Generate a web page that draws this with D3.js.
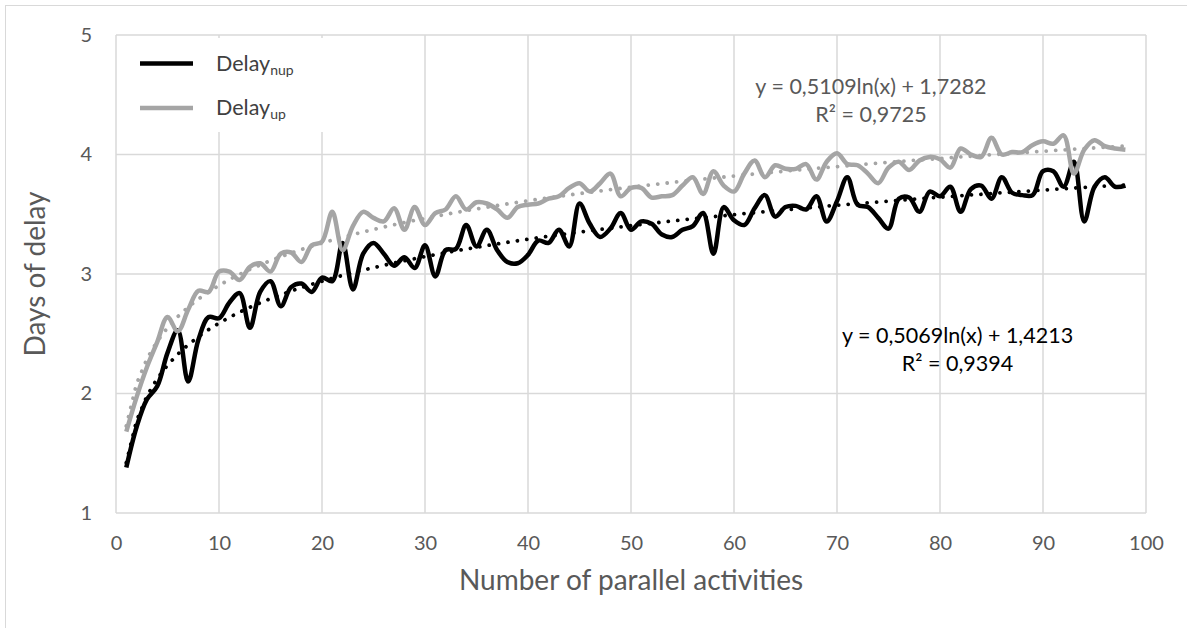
<!DOCTYPE html>
<meta charset="utf-8">
<head>
    <title>Days of delay</title>
    <script src="https://d3js.org/d3.v7.min.js"></script>
</head>
<style>
    body{ margin:0; background:#fff; }
    text{ font-family: Lato, "Open Sans", sans-serif; }
</style>
<svg width="1187" height="628"></svg>
<script>
    // number of parallel activities
    var activities = [1,2,3,4,5,6,7,8,9,10,11,12,13,14,15,16,17,18,19,20,
        21,22,23,24,25,26,27,28,29,30,31,32,33,34,35,36,37,38,39,40,
        41,42,43,44,45,46,47,48,49,50,51,52,53,54,55,56,57,58,59,60,
        61,62,63,64,65,66,67,68,69,70,71,72,73,74,75,76,77,78,79,80,
        81,82,83,84,85,86,87,88,89,90,91,92,93,94,95,96,97,98];

    var delayNup = [1.38,1.72,1.95,2.06,2.34,2.53,2.10,2.45,2.64,2.63,
        2.76,2.84,2.55,2.85,2.94,2.73,2.89,2.92,2.85,2.97,
        2.94,3.26,2.87,3.17,3.26,3.17,3.07,3.14,3.05,3.24,
        2.98,3.20,3.21,3.41,3.23,3.37,3.20,3.10,3.09,3.16,
        3.28,3.26,3.37,3.23,3.59,3.42,3.31,3.38,3.51,3.37,
        3.44,3.42,3.33,3.31,3.37,3.40,3.51,3.17,3.56,3.45,
        3.41,3.55,3.66,3.48,3.56,3.57,3.54,3.65,3.44,3.61,
        3.81,3.58,3.56,3.47,3.38,3.63,3.64,3.52,3.69,3.65,
        3.73,3.52,3.71,3.74,3.63,3.81,3.68,3.66,3.66,3.86,
        3.86,3.73,3.94,3.44,3.73,3.81,3.73,3.74];

    var delayUp = [1.68,1.97,2.22,2.43,2.64,2.52,2.70,2.86,2.85,3.02,
        3.02,2.95,3.06,3.09,3.02,3.17,3.18,3.10,3.24,3.27,
        3.52,3.20,3.40,3.52,3.47,3.44,3.55,3.37,3.56,3.41,
        3.51,3.54,3.65,3.54,3.60,3.59,3.54,3.47,3.56,3.58,
        3.59,3.63,3.65,3.72,3.76,3.69,3.76,3.84,3.65,3.72,
        3.72,3.64,3.65,3.66,3.74,3.81,3.67,3.86,3.74,3.69,
        3.84,3.95,3.81,3.91,3.88,3.88,3.92,3.79,3.94,4.01,
        3.92,3.91,3.84,3.76,3.89,3.94,3.87,3.95,3.98,3.96,
        3.89,4.05,4.00,3.98,4.14,4.00,4.02,4.02,4.08,4.11,
        4.09,4.16,3.84,4.04,4.12,4.07,4.05,4.04];

    // log trendlines as printed on the chart: y = a ln(x) + b
    var trendNup = {a:0.5069, b:1.4213, r2:'0,9394'},
        trendUp = {a:0.5109, b:1.7282, r2:'0,9725'};

    var xTicks = [0,10,20,30,40,50,60,70,80,90,100],
        yTicks = [1,2,3,4,5];

    var margin = {left:116, top:35, right:41, bottom:115},
        width = 1187 - margin.left - margin.right,
        height = 628 - margin.top - margin.bottom,
        black = '#000000',
        grey = '#a5a5a5',
        label = '#595959';

    var svg = d3.select('svg');

    // chart area border
    svg.append('rect')
        .attr('x',5.5).attr('y',5.5)
        .attr('width',1300).attr('height',800)
        .style('fill','none').style('stroke','#d9d9d9').style('stroke-width',1);

    var g = svg.append('g').attr('transform','translate('+margin.left+','+margin.top+')');

    var x = d3.scaleLinear().domain([0,100]).range([0,width]),
        y = d3.scaleLinear().domain([1,5]).range([height,0]);

    // grid
    g.append('g').selectAll('line').data(xTicks).enter().append('line')
        .attr('x1',function(d){ return x(d); }).attr('x2',function(d){ return x(d); })
        .attr('y1',0).attr('y2',height)
        .style('stroke','#d9d9d9').style('stroke-width',1.5);
    g.append('g').selectAll('line').data(yTicks).enter().append('line')
        .attr('x1',0).attr('x2',width)
        .attr('y1',function(d){ return y(d); }).attr('y2',function(d){ return y(d); })
        .style('stroke','#d9d9d9').style('stroke-width',1.5);

    // axes
    var xAxis = g.append('g').attr('transform','translate(0,'+height+')')
        .call(d3.axisBottom(x).tickValues(xTicks).tickSize(0).tickPadding(23).tickFormat(d3.format('d')));
    var yAxis = g.append('g')
        .call(d3.axisLeft(y).tickValues(yTicks).tickSize(0).tickPadding(24).tickFormat(d3.format('d')));
    [xAxis,yAxis].forEach(function(a){
        a.select('.domain').remove();
        a.selectAll('text').style('font-family','Lato, sans-serif').style('font-size','20px').style('fill',label);
    });

    g.append('text').text('Number of parallel activities')
        .attr('x',width/2).attr('y',height+77)
        .attr('text-anchor','middle')
        .style('font-size','28px').style('fill',label);

    g.append('text').text('Days of delay')
        .attr('transform','translate(-71,'+(height/2)+') rotate(-90)')
        .attr('text-anchor','middle')
        .style('font-size','28px').style('fill',label);

    // series
    var line = d3.line()
        .x(function(d){ return x(d[0]); })
        .y(function(d){ return y(d[1]); })
        .curve(d3.curveCatmullRom.alpha(0.5));

    var trendLine = d3.line()
        .x(function(d){ return x(d[0]); })
        .y(function(d){ return y(d[1]); });

    function trendPoints(t){
        return activities.map(function(a){ return [a, t.a*Math.log(a)+t.b]; });
    }

    g.append('path').datum(d3.zip(activities,delayNup))
        .attr('d',line)
        .style('fill','none').style('stroke',black).style('stroke-width',4.5).style('stroke-linejoin','round');

    g.append('path').datum(d3.zip(activities,delayUp))
        .attr('d',line)
        .style('fill','none').style('stroke',grey).style('stroke-width',4.5).style('stroke-linejoin','round');

    g.append('path').datum(trendPoints(trendNup))
        .attr('d',trendLine)
        .style('fill','none').style('stroke',black).style('stroke-width',3.8)
        .style('stroke-linecap','round').style('stroke-dasharray','0.01 9.5');

    g.append('path').datum(trendPoints(trendUp))
        .attr('d',trendLine)
        .style('fill','none').style('stroke',grey).style('stroke-width',3.8)
        .style('stroke-linecap','round').style('stroke-dasharray','0.01 9.5');

    // equations
    function fmt(v){ return v.toFixed(4).replace('.',','); }

    var eqUp = g.append('text').attr('text-anchor','middle').style('font-size','21.5px').style('fill',label);
    eqUp.append('tspan').attr('x',x(73.3)).attr('y',59).text('y = '+fmt(trendUp.a)+'ln(x) + '+fmt(trendUp.b));
    eqUp.append('tspan').attr('x',x(73.3)).attr('y',87).text('R² = '+trendUp.r2);

    var eqNup = g.append('text').attr('text-anchor','middle').style('font-size','21.5px').style('fill','#000');
    eqNup.append('tspan').attr('x',x(81.7)).attr('y',308).text('y = '+fmt(trendNup.a)+'ln(x) + '+fmt(trendNup.b));
    eqNup.append('tspan').attr('x',x(81.7)).attr('y',336).text('R² = '+trendNup.r2);

    // legend
    var legend = g.append('g');
    legend.append('rect')
        .attr('x',2).attr('y',3).attr('width',215).attr('height',94)
        .style('fill','#fff');
    var items = [{name:'Delay', sub:'nup', color:black, y:28.5},
                 {name:'Delay', sub:'up', color:grey, y:73}];
    items.forEach(function(d){
        legend.append('line')
            .attr('x1',24).attr('x2',77).attr('y1',d.y).attr('y2',d.y)
            .style('stroke',d.color).style('stroke-width',4.5);
        var t = legend.append('text').attr('x',100).attr('y',d.y+7)
            .style('font-size','21.5px').style('fill','#404040');
        t.append('tspan').text(d.name);
        t.append('tspan').attr('dy',4).style('font-size','14px').text(d.sub);
    });
</script>
